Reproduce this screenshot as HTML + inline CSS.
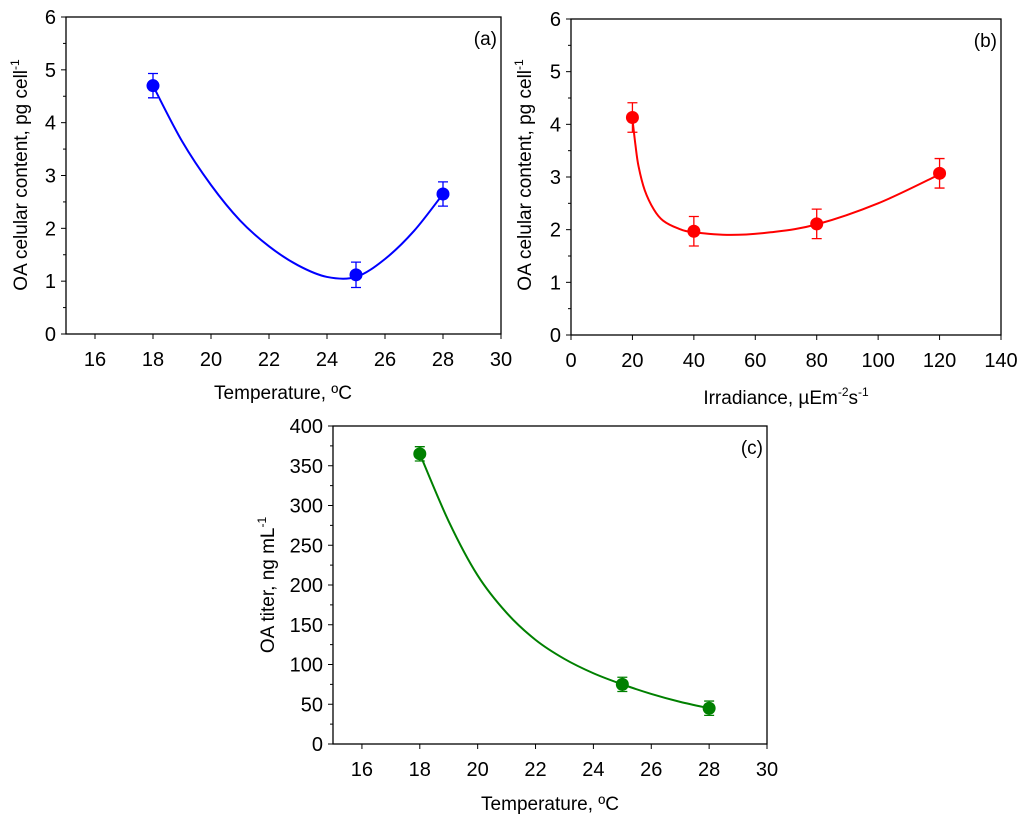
<!DOCTYPE html>
<html><head><meta charset="utf-8"><style>
body{margin:0;background:#fff;width:1024px;height:828px;overflow:hidden;position:relative}
svg{font-family:"Liberation Sans",Arial,sans-serif}
</style></head><body>
<svg id="fig" width="1024" height="828" viewBox="0 0 1024 828"></svg>
<script>
// Panel (a)
const aX=[18,25,28];
const aY=[4.7,1.12,2.65];
const aErr=[0.23,0.24,0.23];
const aFitX=[18,19,20,21,22,23,24,25,26,27,28];
const aFitY=[4.7,3.65,2.82,2.15,1.66,1.3,1.08,1.08,1.42,1.95,2.65];
// Panel (b)
const bX=[20,40,80,120];
const bY=[4.13,1.97,2.11,3.07];
const bErr=[0.28,0.28,0.28,0.28];
const bFitX=[20,21,22,24,27,30,35,40,52,65,80,100,120];
const bFitY=[4.1,3.6,3.2,2.75,2.38,2.17,2.02,1.95,1.9,1.95,2.1,2.5,3.05];
// Panel (c)
const cX=[18,25,28];
const cY=[365,75,45];
const cErr=[9,9,9];
const cFitX=[18,19,20,21,22,23,24,25,26,27,28];
const cFitY=[365,280,212,165,131,107,89,75,63,53,45];
// Ticks
const aXTicks=[16,18,20,22,24,26,28,30];
const aYTicks=[0,1,2,3,4,5,6];
const bXTicks=[0,20,40,60,80,100,120,140];
const cYTicks=[0,50,100,150,200,250,300,350,400];

const NS="http://www.w3.org/2000/svg";
const svg=document.getElementById('fig');
function el(tag,attrs,parent,text){const e=document.createElementNS(NS,tag);for(const k in attrs)e.setAttribute(k,attrs[k]);if(text!==undefined)e.textContent=text;(parent||svg).appendChild(e);return e;}

function panel(o){
  const g=el('g',{});
  
  
  const sx=v=>o.L+(v-o.xmin)/(o.xmax-o.xmin)*(o.R-o.L);
  const sy=v=>o.B-(v-o.ymin)/(o.ymax-o.ymin)*(o.B-o.T);
  const frame=el('rect',{x:o.L,y:o.T,width:o.R-o.L,height:o.B-o.T,fill:'none',stroke:'#000','stroke-width':1.3},g);
  
  
  o.xTicks.forEach(t=>{
    const x=sx(t);
    el('line',{x1:x,y1:o.B,x2:x,y2:o.B+5,stroke:'#000','stroke-width':1},g);
    const tx=el('text',{x:x,y:o.B+32,'text-anchor':'middle','font-size':20},g,String(t));
    
    
  });
  o.yTicks.forEach((t,i)=>{
    const y=sy(t);
    el('line',{x1:o.L-5,y1:y,x2:o.L,y2:y,stroke:'#000','stroke-width':1},g);
    const tx=el('text',{x:o.L-10,y:y+7,'text-anchor':'end','font-size':20},g,String(t));
    
    
    if(i<o.yTicks.length-1){const m=sy((t+o.yTicks[i+1])/2);el('line',{x1:o.L-3,y1:m,x2:o.L,y2:m,stroke:'#000','stroke-width':1},g);}
  });
  const P=o.fx.map((v,i)=>[sx(v),sy(o.fy[i])]);
  let d='M'+P[0][0]+','+P[0][1];
  for(let i=0;i<P.length-1;i++){
    const p0=P[i-1]||P[i],p1=P[i],p2=P[i+1],p3=P[i+2]||P[i+1];
    d+=' C'+(p1[0]+(p2[0]-p0[0])/6)+','+(p1[1]+(p2[1]-p0[1])/6)+' '+(p2[0]-(p3[0]-p1[0])/6)+','+(p2[1]-(p3[1]-p1[1])/6)+' '+p2[0]+','+p2[1];
  }
  const c=el('path',{d:d,fill:'none',stroke:o.color,'stroke-width':2},g);
  
  
  o.px.forEach((v,i)=>{
    const x=sx(v),y1=sy(o.py[i]+o.pe[i]),y2=sy(o.py[i]-o.pe[i]);
    const eb=el('path',{d:`M${x},${y1}V${y2}M${x-5},${y1}H${x+5}M${x-5},${y2}H${x+5}`,stroke:o.color,'stroke-width':1.3,fill:'none'},g);
    
    
    const pt=el('circle',{cx:x,cy:sy(o.py[i]),r:6.5,fill:o.color},g);
    
    
  });
  const lab=el('text',{x:o.R-4,y:o.T+28,'text-anchor':'end','font-size':19},g,o.label);
  
  
}

panel({name:'panel-a',L:66,R:501,T:17,B:334,xmin:15,xmax:30,ymin:0,ymax:6,xTicks:aXTicks,yTicks:aYTicks,fx:aFitX,fy:aFitY,px:aX,py:aY,pe:aErr,color:'#0000ff',label:'(a)'});
panel({name:'panel-b',L:571,R:1001,T:19,B:335,xmin:0,xmax:140,ymin:0,ymax:6,xTicks:bXTicks,yTicks:aYTicks,fx:bFitX,fy:bFitY,px:bX,py:bY,pe:bErr,color:'#ff0000',label:'(b)'});
panel({name:'panel-c',L:333,R:767,T:426,B:744,xmin:15,xmax:30,ymin:0,ymax:400,xTicks:aXTicks,yTicks:cYTicks,fx:cFitX,fy:cFitY,px:cX,py:cY,pe:cErr,color:'#008000',label:'(c)'});
</script>
<svg width="1024" height="828" style="position:absolute;left:0;top:0">
<g font-family="Liberation Sans, Arial, sans-serif" font-size="19">
<text x="283" y="399" text-anchor="middle">Temperature, ºC</text>
<text transform="translate(27,175) rotate(-90)" text-anchor="middle">OA celular content, pg cell<tspan dy="-8" font-size="12">-1</tspan></text>
<text x="786" y="404" text-anchor="middle">Irradiance, µEm<tspan dy="-8" font-size="12">-2</tspan><tspan dy="8">s</tspan><tspan dy="-8" font-size="12">-1</tspan></text>
<text transform="translate(531,175) rotate(-90)" text-anchor="middle">OA celular content, pg cell<tspan dy="-8" font-size="12">-1</tspan></text>
<text x="550" y="810" text-anchor="middle">Temperature, ºC</text>
<text transform="translate(274,585) rotate(-90)" text-anchor="middle">OA titer, ng mL<tspan dy="-8" font-size="12">-1</tspan></text>
</g></svg>
</body></html>
